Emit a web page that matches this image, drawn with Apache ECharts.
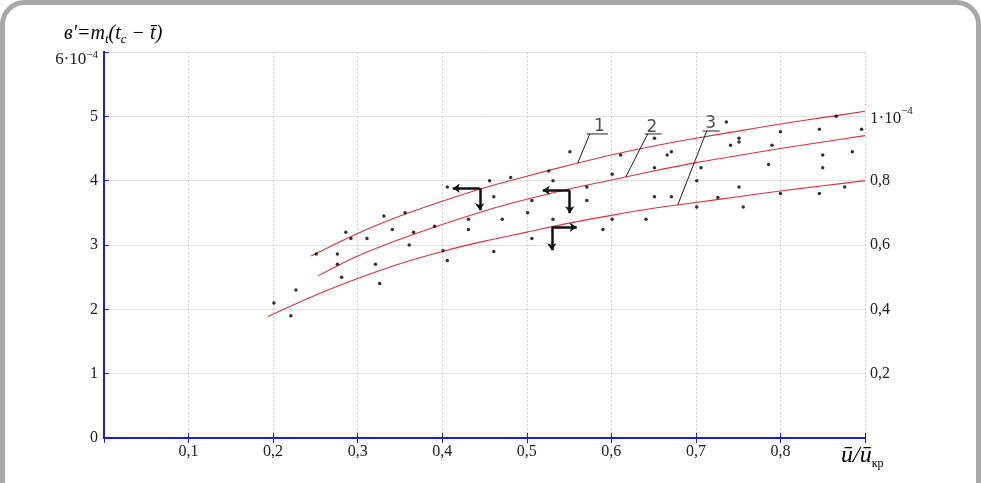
<!DOCTYPE html>
<html>
<head>
<meta charset="utf-8">
<script src="https://cdn.jsdelivr.net/npm/echarts@6/dist/echarts.min.js"></script>
<style>
  html, body { margin: 0; padding: 0; background: #fff; }
  #chart { width: 981px; height: 483px; }
</style>
</head>
<body>
<div id="chart"></div>
<script>
// tick labels
const xTickLabels = ['', '0,1', '0,2', '0,3', '0,4', '0,5', '0,6', '0,7', '0,8', ''];
const yLeftTickLabels = ['0', '1', '2', '3', '4', '5', '{b|6·10}{sup|−4}'];
const yRightTickLabels = ['', '0,2', '0,4', '0,6', '0,8', '{b|1·10}{sup|−4}', ''];

// measured points: x = ū/ū_кр, y in 1e-4
const pointsX = [0.201, 0.221, 0.227, 0.251, 0.276, 0.276, 0.281, 0.286, 0.292, 0.311,
  0.321, 0.326, 0.331, 0.341, 0.356, 0.361, 0.366, 0.391, 0.401, 0.406,
  0.406, 0.431, 0.431, 0.456, 0.461, 0.461, 0.471, 0.481, 0.501, 0.506,
  0.506, 0.526, 0.531, 0.531, 0.551, 0.571, 0.571, 0.590, 0.601, 0.601,
  0.611, 0.641, 0.651, 0.651, 0.651, 0.666, 0.671, 0.671, 0.701, 0.701,
  0.706, 0.726, 0.736, 0.741, 0.751, 0.751, 0.751, 0.756, 0.786, 0.790,
  0.800, 0.800, 0.846, 0.846, 0.850, 0.850, 0.866, 0.876, 0.885, 0.896];
const pointsY = [2.10, 1.90, 2.30, 2.86, 2.86, 2.70, 2.50, 3.20, 3.10, 3.10,
  2.70, 2.40, 3.45, 3.24, 3.50, 3.00, 3.20, 3.29, 2.91, 2.76,
  3.90, 3.40, 3.24, 4.00, 3.75, 2.90, 3.40, 4.05, 3.50, 3.69,
  3.10, 4.15, 4.00, 3.40, 4.45, 3.90, 3.69, 3.24, 4.10, 3.40,
  4.40, 3.40, 4.66, 4.20, 3.75, 4.40, 4.45, 3.75, 4.00, 3.59,
  4.20, 3.74, 4.91, 4.55, 4.66, 4.60, 3.90, 3.59, 4.25, 4.55,
  4.76, 3.80, 4.80, 3.80, 4.40, 4.20, 5.00, 3.90, 4.45, 4.80];

// fitted curves 1, 2, 3
const curve1 = [[0.245, 2.83], [0.3, 3.18], [0.35, 3.45], [0.4, 3.68], [0.45, 3.89], [0.5, 4.07], [0.55, 4.24],
  [0.6, 4.40], [0.65, 4.54], [0.7, 4.66], [0.75, 4.77], [0.8, 4.88], [0.85, 4.98], [0.9, 5.08]];
const curve2 = [[0.253, 2.52], [0.3, 2.83], [0.35, 3.09], [0.4, 3.32], [0.45, 3.53], [0.5, 3.71], [0.55, 3.87],
  [0.6, 4.01], [0.65, 4.15], [0.7, 4.28], [0.75, 4.39], [0.8, 4.50], [0.85, 4.60], [0.9, 4.70]];
const curve3 = [[0.194, 1.89], [0.25, 2.22], [0.3, 2.48], [0.35, 2.71], [0.4, 2.90], [0.45, 3.06], [0.5, 3.20],
  [0.55, 3.34], [0.6, 3.46], [0.65, 3.57], [0.7, 3.66], [0.75, 3.75], [0.8, 3.84], [0.85, 3.92], [0.9, 4.00]];

// curve numbers with leader lines
const curveNames = ['1', '2', '3'];
const curveNamePos = [[0.586, 4.84], [0.648, 4.83], [0.7175, 4.89]];
const leaderLines = [
  [[0.5745, 4.726], [0.5603, 4.275]],
  [[0.643, 4.726], [0.617, 4.057]],
  [[0.7128, 4.772], [0.6785, 3.622]]
];
const nameUnderlines = [
  [[0.571, 4.726], [0.596, 4.726]],
  [[0.6395, 4.726], [0.6596, 4.726]],
  [[0.708, 4.772], [0.728, 4.772]]
];

// L-shaped arrows: corner, end of horizontal stroke, end of vertical stroke
const arrowCorners = [[0.4444, 3.882], [0.5508, 3.851], [0.5296, 3.276]];
const arrowHorizEnds = [0.4125, 0.5189, 0.5591];
const arrowVertEnds = [3.54, 3.494, 2.919];

const blue = '#1c1ce0';
const serif = '"Liberation Serif", "DejaVu Serif", serif';

const tickIndex = (v, step) => Math.round(v / step);

const arrowSegments = [];
arrowCorners.forEach((c, i) => {
  arrowSegments.push([{ coord: c }, { coord: [arrowHorizEnds[i], c[1]] }]);
  arrowSegments.push([{ coord: c }, { coord: [c[0], arrowVertEnds[i]] }]);
});

const thinBlack = { color: '#222', width: 1 };
const leaderSeries = leaderLines.concat(nameUnderlines).map((seg) => ({
  type: 'line',
  data: seg,
  showSymbol: false,
  silent: true,
  lineStyle: thinBlack,
  z: 3
}));

const curveSeries = [curve1, curve2, curve3].map((c) => ({
  type: 'line',
  data: c,
  smooth: 0.3,
  showSymbol: false,
  silent: true,
  lineStyle: { color: '#e0303a', width: 1.1 },
  z: 2
}));

const options = {
  animation: false,
  backgroundColor: '#fff',
  grid: { left: 104, right: 116, top: 52, bottom: 45 },
  xAxis: [
    {
      type: 'value',
      min: 0,
      max: 0.9,
      interval: 0.1,
      axisLine: { lineStyle: { color: blue, width: 2 } },
      axisTick: { inside: true, length: 5, lineStyle: { color: blue } },
      axisLabel: {
        margin: 6,
        color: '#222',
        fontFamily: serif,
        fontSize: 16,
        formatter: (v) => xTickLabels[tickIndex(v, 0.1)] || ''
      },
      splitLine: { lineStyle: { color: '#cacaee', type: [2, 2], width: 1 } }
    },
    {
      type: 'value',
      position: 'top',
      min: 0,
      max: 0.9,
      interval: 0.1,
      axisLine: { lineStyle: { color: blue, width: 2 } },
      axisTick: { inside: true, length: 5, lineStyle: { color: blue } },
      axisLabel: { show: false },
      splitLine: { show: false }
    }
  ],
  yAxis: [
    {
      type: 'value',
      min: 0,
      max: 6,
      interval: 1,
      axisLine: { show: true, lineStyle: { color: blue, width: 2 } },
      axisTick: { show: true, inside: true, length: 5, lineStyle: { color: blue } },
      axisLabel: {
        margin: 6,
        color: '#222',
        fontFamily: serif,
        fontSize: 16,
        formatter: (v) => yLeftTickLabels[tickIndex(v, 1)] || '',
        rich: {
          b: { fontFamily: serif, fontSize: 17, color: '#222', padding: [16, 0, 0, 0] },
          sup: { fontFamily: serif, fontSize: 11, color: '#222', verticalAlign: 'top', padding: [14, 0, 0, 0] }
        }
      },
      splitLine: { lineStyle: { color: '#e2e2e2', width: 1 } }
    },
    {
      type: 'value',
      position: 'right',
      min: 0,
      max: 1.2,
      interval: 0.2,
      axisLine: { show: true, lineStyle: { color: blue, width: 2 } },
      axisTick: { show: false },
      axisLabel: {
        margin: 5,
        color: '#222',
        fontFamily: serif,
        fontSize: 16,
        formatter: (v) => yRightTickLabels[tickIndex(v, 0.2)] || '',
        rich: {
          b: { fontFamily: serif, fontSize: 17, color: '#222', padding: [4, 0, 0, 0] },
          sup: { fontFamily: serif, fontSize: 11, color: '#222', verticalAlign: 'top' }
        }
      },
      splitLine: { show: false }
    }
  ],
  graphic: [
    {
      type: 'rect',
      shape: { x: 2.5, y: 2.5, width: 976, height: 540, r: 22 },
      style: { fill: 'none', stroke: '#a8a8a8', lineWidth: 5 },
      silent: true
    },
    {
      type: 'text',
      x: 64,
      y: 34,
      style: {
        text: '{i|в′=m}{s|t}{i|(t}{s|c}{i| − t̄)}',
        verticalAlign: 'middle',
        rich: {
          i: { fontFamily: serif, fontStyle: 'italic', fontSize: 20, color: '#222', lineHeight: 24 },
          s: { fontFamily: serif, fontStyle: 'italic', fontSize: 13, color: '#222', verticalAlign: 'bottom', lineHeight: 24 }
        }
      }
    },
    {
      type: 'text',
      x: 841,
      y: 456,
      style: {
        text: '{i|ū/ū}{s|кр}',
        verticalAlign: 'middle',
        rich: {
          i: { fontFamily: serif, fontStyle: 'italic', fontSize: 24, color: '#222', lineHeight: 28 },
          s: { fontFamily: serif, fontSize: 12, color: '#222', verticalAlign: 'bottom', lineHeight: 28 }
        }
      }
    }
  ],
  series: [
    ...curveSeries,
    ...leaderSeries,
    {
      type: 'scatter',
      data: curveNamePos.map((p, i) => ({ value: p, name: curveNames[i] })),
      symbolSize: 1,
      itemStyle: { color: 'rgba(0,0,0,0)' },
      silent: true,
      label: {
        show: true,
        position: 'inside',
        formatter: '{b}',
        color: '#222',
        fontFamily: '"DejaVu Sans", sans-serif',
        fontSize: 17
      },
      z: 4
    },
    {
      type: 'scatter',
      data: [],
      silent: true,
      markLine: {
        silent: true,
        symbol: ['none', 'arrow'],
        symbolSize: 7,
        label: { show: false },
        lineStyle: { color: '#111', width: 2.5, type: 'solid' },
        data: arrowSegments
      }
    },
    {
      type: 'scatter',
      data: pointsX.map((x, i) => [x, pointsY[i]]),
      symbolSize: 3.5,
      itemStyle: { color: '#000' },
      silent: true,
      z: 5
    }
  ]
};

const chart = echarts.init(document.getElementById('chart'));
chart.setOption(options);
</script>
</body>
</html>
